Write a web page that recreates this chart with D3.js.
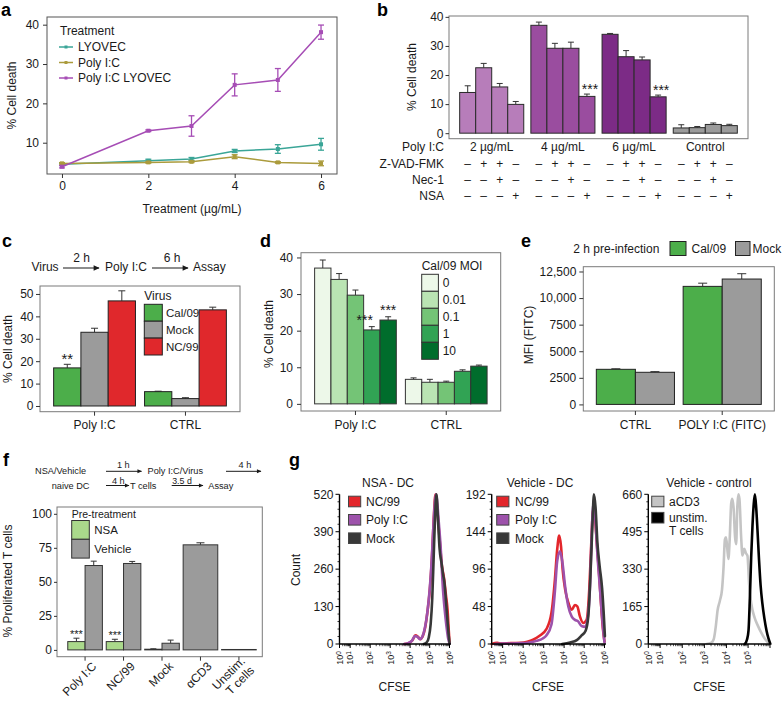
<!DOCTYPE html>
<html>
<head>
<meta charset="utf-8">
<script src="https://cdn.jsdelivr.net/npm/d3@7/dist/d3.min.js"></script>
<style>
  html,body{margin:0;padding:0;background:#fff;}
  svg{display:block;}
</style>
</head>
<body>
<svg id="fig" width="782" height="701" xmlns="http://www.w3.org/2000/svg"></svg>
<script>
// ======================= DATA =======================
// Panel a
const aDoses = [0, 2, 3, 4, 5, 6];
const aSeriesNames = ["LYOVEC", "Poly I:C", "Poly I:C LYOVEC"];
const aLyovec = [4.5, 5.4, 5.85, 7.9, 8.4, 9.6];
const aLyovecErr = [0.3, 0.4, 0.4, 0.4, 1.1, 1.5];
const aPolyIC = [4.75, 5.0, 5.15, 6.45, 5.0, 4.75];
const aPolyICErr = [0.2, 0.2, 0.2, 0.5, 0.2, 0.6];
const aPolyICLyovec = [3.9, 13.05, 14.25, 24.7, 25.95, 38.1];
const aPolyICLyovecErr = [0.3, 0.2, 2.6, 2.8, 2.9, 1.8];
const aXTicks = [0, 2, 4, 6];
const aYTicks = [10, 20, 30, 40];

// Panel b
const bGroups = ["2 µg/mL", "4 µg/mL", "6 µg/mL", "Control"];
const bValues = [[14.0, 22.5, 15.9, 9.9], [37.1, 29.2, 29.2, 12.65], [34.0, 26.3, 25.2, 12.5], [1.8, 1.9, 3.0, 2.6]];
const bErrors = [[2.3, 1.5, 1.2, 1.0], [1.1, 1.7, 2.1, 0.8], [0.3, 2.1, 1.0, 0.6], [1.1, 0.4, 0.5, 0.45]];
const bRowLabels = ["Poly I:C", "Z-VAD-FMK", "Nec-1", "NSA"];
const bRowSigns = [["–", "+", "+", "–"], ["–", "–", "+", "–"], ["–", "–", "–", "+"]];
const bSignif = [["4 µg/mL", 3, "***"], ["6 µg/mL", 3, "***"]];
const bYTicks = [0, 10, 20, 30, 40];

// Panel c
const cGroups = ["Poly I:C", "CTRL"];
const cViruses = ["Cal/09", "Mock", "NC/99"];
const cValues = [[17.0, 32.9, 46.9], [6.4, 3.3, 42.9]];
const cErrors = [[1.6, 1.8, 4.5], [0.2, 0.4, 1.2]];
const cSignif = [["Poly I:C", 0, "**"]];
const cYTicks = [0, 10, 20, 30, 40, 50];

// Panel d
const dGroups = ["Poly I:C", "CTRL"];
const dMOI = ["0", "0.01", "0.1", "1", "10"];
const dValues = [[37.1, 34.0, 29.7, 20.2, 22.9], [6.7, 5.9, 5.9, 8.9, 10.3]];
const dErrors = [[2.2, 1.6, 1.4, 0.9, 0.9], [0.4, 0.8, 0.3, 0.4, 0.3]];
const dSignif = [["Poly I:C", 3, "***"], ["Poly I:C", 4, "***"]];
const dYTicks = [0, 10, 20, 30, 40];

// Panel e
const eGroups = ["CTRL", "POLY I:C (FITC)"];
const eSeries = ["Cal/09", "Mock"];
const eValues = [[3300, 3020], [11100, 11790]];
const eErrors = [[50, 60], [300, 500]];
const eYTicks = [0, 2500, 5000, 7500, 10000, 12500];

// Panel f
const fCategories = ["Poly I:C", "NC/99", "Mock", "αCD3", "Unstim.\nT cells"];
const fSeries = ["NSA", "Vehicle"];
const fNSA = [6.1, 6.1, 0.5, null, null];
const fNSAErr = [2.5, 1.7, 0.3, null, null];
const fVehicle = [62.0, 63.5, 4.9, 77.2, 0.3];
const fVehicleErr = [3.2, 1.5, 2.3, 1.5, 0];
const fSignif = [["Poly I:C", "***"], ["NC/99", "***"]];
const fYTicks = [0, 25, 50, 75, 100];

// Panel g (histograms: [log10 CFSE, count])
const gDecades = [0, 1, 2, 3, 4, 5, 6];
const g1Ticks = [0, 130, 260, 390, 520];
const g2Ticks = [0, 48, 96, 144, 192];
const g3Ticks = [0, 165, 330, 495, 660];
const g1Red = [[3.72,0],[3.92,3],[4.12,13],[4.27,30],[4.4,25],[4.52,17],[4.64,26],[4.77,58],[4.9,120],[5.02,200],[5.12,310],[5.2,430],[5.27,510],[5.31,520],[5.38,470],[5.46,400],[5.54,330],[5.62,270],[5.72,230],[5.82,170],[5.9,120],[5.96,50],[6.0,5]];
const g1Purple = [[3.7,0],[3.9,3],[4.1,12],[4.25,28],[4.38,25],[4.5,17],[4.62,25],[4.75,55],[4.88,110],[5.0,190],[5.1,290],[5.18,400],[5.25,480],[5.31,520],[5.37,500],[5.45,430],[5.55,340],[5.67,190],[5.77,110],[5.85,60],[5.93,20],[6.0,2]];
const g1Mock = [[4.7,0],[4.85,6],[4.95,22],[5.05,70],[5.13,160],[5.2,300],[5.27,440],[5.34,520],[5.42,430],[5.5,330],[5.6,280],[5.68,240],[5.74,215],[5.82,150],[5.9,80],[5.96,30],[6.0,5]];
const g2Red = [[0.0,0],[0.5,1.5],[0.9,0.5],[1.4,1.2],[1.9,1.5],[2.2,3],[2.48,5.5],[2.8,10.5],[3.13,19],[3.38,40],[3.55,83],[3.66,121],[3.76,139],[3.85,125],[3.93,95],[4.05,70],[4.21,53],[4.38,44],[4.54,50],[4.66,48],[4.79,35],[4.95,27],[5.12,31],[5.25,70],[5.35,130],[5.44,172],[5.52,165],[5.62,130],[5.72,95],[5.82,55],[5.92,20],[6.0,3]];
const g2Purple = [[0.3,0],[1.0,0.5],[1.8,1],[2.3,2],[2.65,4],[2.95,7],[3.13,11],[3.38,25],[3.55,68],[3.66,106],[3.8,119],[3.92,104],[4.05,74],[4.21,48],[4.38,35],[4.54,31],[4.7,29],[4.87,23],[5.05,22],[5.18,35],[5.29,75],[5.38,150],[5.47,181],[5.55,160],[5.65,115],[5.75,80],[5.85,45],[5.93,20],[6.0,2]];
const g2Mock = [[3.9,0],[4.3,2],[4.63,5],[4.87,11],[5.07,17],[5.2,35],[5.3,83],[5.4,150],[5.48,192],[5.56,175],[5.65,130],[5.76,100],[5.88,72],[5.96,40],[6.02,10]];
const g3aCD3 = [[3.1,0],[3.3,5],[3.42,20],[3.52,80],[3.6,150],[3.7,190],[3.8,240],[3.87,340],[3.93,460],[3.98,470],[4.04,420],[4.09,375],[4.15,460],[4.22,620],[4.27,640],[4.33,600],[4.4,470],[4.45,440],[4.5,600],[4.55,660],[4.6,640],[4.68,470],[4.74,390],[4.82,420],[4.9,400],[4.97,390],[5.05,260],[5.15,175],[5.3,115],[5.45,80],[5.6,50],[5.75,25],[5.9,8],[6.0,2]];
const g3Unstim = [[4.85,0],[4.95,20],[5.02,60],[5.08,200],[5.14,380],[5.2,520],[5.26,620],[5.31,660],[5.37,600],[5.43,500],[5.5,370],[5.57,260],[5.65,180],[5.74,115],[5.84,60],[5.93,25],[6.0,5]];

// ======================= DRAWING =======================
const FONT = '"Liberation Sans", Arial, Helvetica, sans-serif';
const INK = "#1a1a1a";
const svg = d3.select("#fig").attr("font-family", FONT);
svg.append("rect").attr("width", 782).attr("height", 701).attr("fill", "#fff");

const defs = svg.append("defs");
defs.append("marker").attr("id", "arr").attr("viewBox", "0 0 10 10")
  .attr("refX", 9).attr("refY", 5).attr("markerWidth", 7).attr("markerHeight", 6)
  .attr("orient", "auto").attr("markerUnits", "userSpaceOnUse")
  .append("path").attr("d", "M0,0.5 L10,5 L0,9.5 Z").attr("fill", INK);
defs.append("marker").attr("id", "arrS").attr("viewBox", "0 0 10 10")
  .attr("refX", 9).attr("refY", 5).attr("markerWidth", 5.5).attr("markerHeight", 4.5)
  .attr("orient", "auto").attr("markerUnits", "userSpaceOnUse")
  .append("path").attr("d", "M0,0.5 L10,5 L0,9.5 Z").attr("fill", INK);

function text(x, y, s, o = {}) {
  const t = svg.append("text").attr("x", x).attr("y", y)
    .attr("font-size", o.size || 12).attr("fill", o.fill || INK)
    .attr("text-anchor", o.anchor || "start");
  if (o.weight) t.attr("font-weight", o.weight);
  if (o.rotate != null) t.attr("transform", `rotate(${o.rotate},${x},${y})`);
  t.text(s);
  return t;
}
function panelBox(b) {
  svg.append("rect").attr("x", b.l).attr("y", b.t).attr("width", b.r - b.l).attr("height", b.b - b.t)
    .attr("fill", "none").attr("stroke", b.stroke || "#7a7a7a").attr("stroke-width", 1);
}
function yAxis(y, x, ticks, o = {}) {
  const g = svg.append("g").attr("transform", `translate(${x},0)`)
    .call(d3.axisLeft(y).tickValues(ticks).tickSize(o.size || 4)
      .tickPadding(o.pad == null ? 3 : o.pad).tickFormat(o.fmt || (d => d)));
  g.attr("font-family", FONT).attr("font-size", o.fs || 12);
  g.select(".domain").remove();
  g.selectAll(".tick line").attr("stroke", "#333");
  g.selectAll(".tick text").attr("fill", INK);
  return g;
}
function xAxis(x, y, ticks, o = {}) {
  const ax = d3.axisBottom(x).tickSize(o.size || 4).tickPadding(o.pad == null ? 3 : o.pad);
  if (ticks) ax.tickValues(ticks).tickFormat(d => d);
  const g = svg.append("g").attr("transform", `translate(0,${y})`).call(ax);
  g.attr("font-family", FONT).attr("font-size", o.fs || 12);
  g.select(".domain").remove();
  g.selectAll(".tick line").attr("stroke", "#333");
  g.selectAll(".tick text").attr("fill", INK);
  if (o.noLabels) g.selectAll(".tick text").remove();
  return g;
}
function vline(x, y1, y2, c, w) {
  svg.append("line").attr("x1", x).attr("x2", x).attr("y1", y1).attr("y2", y2)
    .attr("stroke", c).attr("stroke-width", w || 1);
}
function hline(x1, x2, y, c, w) {
  svg.append("line").attr("x1", x1).attr("x2", x2).attr("y1", y).attr("y2", y)
    .attr("stroke", c).attr("stroke-width", w || 1);
}
function upErr(cx, yTop, yErr, cap, c) {
  vline(cx, yTop, yErr, c || "#333", 1);
  hline(cx - cap / 2, cx + cap / 2, yErr, c || "#333", 1);
}
function bar(x, w, y0, y1, fill, stroke) {
  svg.append("rect").attr("x", x).attr("y", Math.min(y0, y1)).attr("width", w)
    .attr("height", Math.abs(y1 - y0)).attr("fill", fill)
    .attr("stroke", stroke || "#2a2a2a").attr("stroke-width", 1);
}
function stars(cx, cy, s, size) {
  text(cx, cy + size * 0.55, s, {anchor: "middle", size: size});
}

// ---------- panel labels ----------
[["a", 1, 16], ["b", 377, 16], ["c", 2, 247], ["d", 260, 247], ["e", 521, 247], ["f", 3, 466], ["g", 289, 466]]
  .forEach(([t, x, y]) => text(x, y, t, {size: 18, weight: "bold", fill: "#000"}));

// ======================= PANEL A =======================
{
  const box = {l: 47, t: 17, r: 337, b: 174, stroke: "#555"};
  const x = d3.scaleLinear().domain([-0.347, 6.37]).range([box.l, box.r]);
  const y = d3.scaleLinear().domain([2.05, 41.95]).range([box.b, box.t]);
  panelBox(box);
  yAxis(y, box.l, aYTicks, {pad: 4});
  xAxis(x, box.b, aXTicks, {pad: 3});
  const series = [
    {name: aSeriesNames[0], v: aLyovec, e: aLyovecErr, c: "#3aa597"},
    {name: aSeriesNames[1], v: aPolyIC, e: aPolyICErr, c: "#ab9b3c"},
    {name: aSeriesNames[2], v: aPolyICLyovec, e: aPolyICLyovecErr, c: "#a64db5"}];
  const line = d3.line().x((d, i) => x(aDoses[i])).y(d => y(d));
  series.forEach(s => {
    svg.append("path").datum(s.v).attr("d", line).attr("fill", "none")
      .attr("stroke", s.c).attr("stroke-width", 1.5);
    s.v.forEach((v, i) => {
      const cx = x(aDoses[i]);
      const y1 = y(v + s.e[i]), y2 = y(v - s.e[i]);
      vline(cx, y1, y2, s.c, 1.3);
      hline(cx - 3, cx + 3, y1, s.c, 1.3);
      hline(cx - 3, cx + 3, y2, s.c, 1.3);
      svg.append("rect").attr("x", cx - 2).attr("y", y(v) - 2).attr("width", 4).attr("height", 4).attr("fill", s.c);
    });
  });
  text(60, 35, "Treatment", {size: 12});
  const ly = [47, 62.5, 78];
  series.forEach((s, i) => {
    hline(59, 73, ly[i], s.c, 1.5);
    svg.append("rect").attr("x", 64.5).attr("y", ly[i] - 1.5).attr("width", 3).attr("height", 3).attr("fill", s.c);
    text(78, ly[i] + 4.3, s.name, {size: 12});
  });
  text(192, 213, "Treatment (µg/mL)", {anchor: "middle"});
  text(15.5, 95.5, "% Cell death", {anchor: "middle", rotate: -90});
}

// ======================= PANEL B =======================
{
  const box = {l: 449, t: 16, r: 748, b: 138.7};
  const x0 = d3.scaleBand().domain(bGroups).range([box.l, box.r]).paddingInner(0.1).paddingOuter(0.15);
  const x1 = d3.scaleBand().domain(d3.range(4)).range([0, x0.bandwidth()]);
  const y = d3.scaleLinear().domain([-1.9, 40.3]).range([box.b, box.t]);
  const fills = ["#b77dba", "#9a4d9f", "#7c2b86", "#9b9b9b"];
  bGroups.forEach((g, gi) => {
    bValues[gi].forEach((v, i) => {
      const bx = x0(g) + x1(i), bw = x1.bandwidth();
      upErr(bx + bw / 2, y(v), y(v + bErrors[gi][i]), 6);
      bar(bx, bw, y(0), y(v), fills[gi]);
    });
  });
  panelBox(box);
  yAxis(y, box.l, bYTicks, {size: 3.5, pad: 2});
  bSignif.forEach(([g, i, s]) => {
    const gi = bGroups.indexOf(g);
    const cx = x0(g) + x1(i) + x1.bandwidth() / 2 + 3;
    stars(cx, y(bValues[gi][i] + bErrors[gi][i]) - 8, s, 14);
  });
  const rowY = [151, 167.5, 183.5, 199.5];
  bRowLabels.forEach((r, ri) => text(444, rowY[ri], r, {anchor: "end"}));
  bGroups.forEach(g => {
    text(x0(g) + x0.bandwidth() / 2, rowY[0], g, {anchor: "middle"});
    bRowSigns.forEach((row, ri) => row.forEach((s, i) =>
      text(x0(g) + x1(i) + x1.bandwidth() / 2, rowY[ri + 1], s, {anchor: "middle"})));
  });
  text(416, 77, "% Cell death", {anchor: "middle", rotate: -90});
}

// ======================= PANEL C =======================
{
  text(31.5, 271, "Virus");
  svg.append("line").attr("x1", 63).attr("x2", 99).attr("y1", 268).attr("y2", 268)
    .attr("stroke", INK).attr("stroke-width", 1.2).attr("marker-end", "url(#arr)");
  text(81.5, 262, "2 h", {anchor: "middle"});
  text(105, 271, "Poly I:C");
  svg.append("line").attr("x1", 152).attr("x2", 188).attr("y1", 268).attr("y2", 268)
    .attr("stroke", INK).attr("stroke-width", 1.2).attr("marker-end", "url(#arr)");
  text(172, 262, "6 h", {anchor: "middle"});
  text(193, 271, "Assay");

  const box = {l: 40, t: 286, r: 240, b: 411.7};
  const x0 = d3.scaleBand().domain(cGroups).range([box.l, box.r]).paddingInner(0.1).paddingOuter(0.15);
  const x1 = d3.scaleBand().domain(cViruses).range([0, x0.bandwidth()]);
  const y = d3.scaleLinear().domain([-2.55, 53.55]).range([box.b, box.t]);
  const fills = ["#4cae4a", "#9b9b9b", "#e0282c"];
  cGroups.forEach((g, gi) => cViruses.forEach((s, si) => {
    const bx = x0(g) + x1(s), bw = x1.bandwidth(), v = cValues[gi][si];
    upErr(bx + bw / 2, y(v), y(v + cErrors[gi][si]), 7);
    bar(bx, bw, y(0), y(v), fills[si], "#222");
  }));
  panelBox(box);
  yAxis(y, box.l, cYTicks, {size: 4, pad: 2.5});
  xAxis(x0, box.b, null, {pad: 5});
  cSignif.forEach(([g, i, s]) => {
    const gi = cGroups.indexOf(g);
    stars(x0(g) + x1(cViruses[i]) + x1.bandwidth() / 2, y(cValues[gi][i] + cErrors[gi][i]) - 9, s, 15);
  });
  text(144.3, 300, "Virus", {size: 12});
  const tops = [304.3, 321.2, 338.1];
  cViruses.forEach((s, i) => {
    svg.append("rect").attr("x", 144.3).attr("y", tops[i]).attr("width", 18).attr("height", 16.9)
      .attr("fill", fills[i]).attr("stroke", "#222").attr("stroke-width", 1);
    text(166, tops[i] + 12.5, s, {size: 11.5});
  });
  text(12, 349, "% Cell death", {anchor: "middle", rotate: -90});
}

// ======================= PANEL D =======================
{
  const box = {l: 301, t: 252.7, r: 500.7, b: 411};
  const x0 = d3.scaleBand().domain(dGroups).range([box.l, box.r]).paddingInner(0.1).paddingOuter(0.15);
  const x1 = d3.scaleBand().domain(dMOI).range([0, x0.bandwidth()]);
  const y = d3.scaleLinear().domain([-1.95, 41.3]).range([box.b, box.t]);
  const fills = ["#edf8e9", "#bae4b3", "#74c476", "#31a354", "#006d2c"];
  dGroups.forEach((g, gi) => dMOI.forEach((s, si) => {
    const bx = x0(g) + x1(s), bw = x1.bandwidth(), v = dValues[gi][si];
    upErr(bx + bw / 2, y(v), y(v + dErrors[gi][si]), 6);
    bar(bx, bw, y(0), y(v), fills[si], "#333");
  }));
  panelBox(box);
  yAxis(y, box.l, dYTicks, {size: 4, pad: 4});
  xAxis(x0, box.b, null, {pad: 5});
  dSignif.forEach(([g, i, s]) => {
    const gi = dGroups.indexOf(g);
    const cx = x0(g) + x1(dMOI[i]) + x1.bandwidth() / 2 - (i === 3 ? 7 : 0);
    stars(cx, y(dValues[gi][i] + dErrors[gi][i]) - 9, s, 14);
  });
  text(421.7, 270, "Cal/09 MOI", {size: 12});
  const tops = [274.3, 291.3, 308.3, 325.3, 342.3];
  dMOI.forEach((s, i) => {
    svg.append("rect").attr("x", 421.7).attr("y", tops[i]).attr("width", 16.7).attr("height", 17)
      .attr("fill", fills[i]).attr("stroke", "#333").attr("stroke-width", 1);
    text(442.7, tops[i] + 12.8, s, {size: 12});
  });
  text(272.5, 334, "% Cell death", {anchor: "middle", rotate: -90});
}

// ======================= PANEL E =======================
{
  const box = {l: 583.3, t: 266.7, r: 774.3, b: 411};
  const x0 = d3.scaleBand().domain(eGroups).range([box.l, box.r]).paddingInner(0.1).paddingOuter(0.15);
  const x1 = d3.scaleBand().domain(eSeries).range([0, x0.bandwidth()]);
  const y = d3.scaleLinear().domain([-620, 12950]).range([box.b, box.t]);
  const fills = ["#4cae4a", "#9b9b9b"];
  eGroups.forEach((g, gi) => eSeries.forEach((s, si) => {
    const bx = x0(g) + x1(s), bw = x1.bandwidth(), v = eValues[gi][si];
    upErr(bx + bw / 2, y(v), y(v + eErrors[gi][si]), 9);
    bar(bx, bw, y(0), y(v), fills[si], "#222");
  }));
  panelBox(box);
  yAxis(y, box.l, eYTicks, {size: 4, pad: 3, fmt: d => d >= 10000 ? d3.format(",")(d) : d});
  xAxis(x0, box.b, null, {pad: 5});
  text(573.3, 252.5, "2 h pre-infection", {size: 12});
  svg.append("rect").attr("x", 670).attr("y", 241.5).attr("width", 16).attr("height", 14)
    .attr("fill", fills[0]).attr("stroke", "#222");
  text(691.5, 252.5, eSeries[0], {size: 12});
  svg.append("rect").attr("x", 735.5).attr("y", 241.5).attr("width", 14.5).attr("height", 14)
    .attr("fill", fills[1]).attr("stroke", "#222");
  text(752.5, 252.5, eSeries[1], {size: 12});
  text(532.5, 335, "MFI (FITC)", {anchor: "middle", rotate: -90});
}

// ======================= PANEL F =======================
{
  const fs = 9.2;
  text(35, 474.3, "NSA/Vehicle", {size: fs});
  svg.append("line").attr("x1", 106).attr("x2", 141.5).attr("y1", 471.3).attr("y2", 471.3)
    .attr("stroke", INK).attr("stroke-width", 1).attr("marker-end", "url(#arrS)");
  text(123.3, 468.3, "1 h", {size: fs, anchor: "middle"});
  text(147.5, 474.3, "Poly I:C/Virus", {size: fs});
  svg.append("line").attr("x1", 226).attr("x2", 261).attr("y1", 471.3).attr("y2", 471.3)
    .attr("stroke", INK).attr("stroke-width", 1).attr("marker-end", "url(#arrS)");
  text(245, 468.3, "4 h", {size: fs, anchor: "middle"});
  text(51.7, 489, "naive DC", {size: fs});
  svg.append("line").attr("x1", 106).attr("x2", 129).attr("y1", 485.5).attr("y2", 485.5)
    .attr("stroke", INK).attr("stroke-width", 1).attr("marker-end", "url(#arrS)");
  text(118.3, 483.8, "4 h", {size: fs, anchor: "middle"});
  text(130, 489, "T cells", {size: fs});
  svg.append("line").attr("x1", 171.7).attr("x2", 203).attr("y1", 485.5).attr("y2", 485.5)
    .attr("stroke", INK).attr("stroke-width", 1).attr("marker-end", "url(#arrS)");
  text(182, 484, "3.5 d", {size: 8.8, anchor: "middle"});
  text(208.3, 489, "Assay", {size: fs});

  const box = {l: 57, t: 507, r: 262.3, b: 656.7};
  const x0 = d3.scaleBand().domain(fCategories).range([62, 262]).paddingInner(0.1).paddingOuter(0.15);
  const x1 = d3.scaleBand().domain(fSeries).range([0, x0.bandwidth()]);
  const y = d3.scaleLinear().domain([-5, 105]).range([box.b, box.t]);
  const fills = ["#aad98b", "#9b9b9b"];
  fCategories.forEach((c, i) => {
    if (fNSA[i] != null) {
      const bxN = x0(c) + x1("NSA"), bw = x1.bandwidth();
      upErr(bxN + bw / 2, y(fNSA[i]), y(fNSA[i] + fNSAErr[i]), 6);
      bar(bxN, bw, y(0), y(fNSA[i]), fills[0], "#333");
      const bxV = x0(c) + x1("Vehicle");
      upErr(bxV + bw / 2, y(fVehicle[i]), y(fVehicle[i] + fVehicleErr[i]), 6);
      bar(bxV, bw, y(0), y(fVehicle[i]), fills[1], "#333");
    } else {
      const bx = x0(c), bw = x0.bandwidth();
      if (fVehicleErr[i] > 0) upErr(bx + bw / 2, y(fVehicle[i]), y(fVehicle[i] + fVehicleErr[i]), 8);
      bar(bx, bw, y(0), y(fVehicle[i]), fills[1], "#333");
    }
  });
  panelBox(box);
  yAxis(y, box.l, fYTicks, {size: 3, pad: 2});
  xAxis(x0, box.b, null, {noLabels: true});
  fSignif.forEach(([c, s]) => {
    const i = fCategories.indexOf(c);
    const cx = x0(c) + x1("NSA") + x1.bandwidth() / 2;
    stars(cx, y(fNSA[i] + fNSAErr[i]) - 6, s, 11);
  });
  fCategories.forEach(c => {
    const cx = x0(c) + x0.bandwidth() / 2;
    const lines = c.split("\n");
    const ax = cx + 6, ay = 661;
    const t = svg.append("text").attr("transform", `translate(${ax},${ay}) rotate(-45)`)
      .attr("text-anchor", "end").attr("font-size", 12).attr("fill", INK);
    lines.forEach((l, li) => t.append("tspan").attr("x", 0)
      .attr("dy", li === 0 ? (lines.length > 1 ? "0.1em" : "0.72em") : "1.1em").text(l));
  });
  text(71.7, 517.5, "Pre-treatment", {size: 10.5});
  const tops = [520.5, 539.3];
  fSeries.forEach((s, i) => {
    svg.append("rect").attr("x", 71.7).attr("y", tops[i]).attr("width", 17.6).attr("height", 18.8)
      .attr("fill", fills[i]).attr("stroke", "#333");
    text(94.3, tops[i] + 13.3, s, {size: 11.5});
  });
  text(12, 581, "% Proliferated T cells", {anchor: "middle", rotate: -90});
}

// ======================= PANEL G =======================
{
  const gTop = 494.3, gBot = 644;
  const gFrac = [0, 0.097, 0.279, 0.461, 0.642, 0.82, 1.0];
  const panels = [
    {title: "NSA - DC", tx: 388, x0: 339.5, x1: 449.5, ymax: 520, ticks: g1Ticks, xl: 6,
     series: [{d: g1Red, c: "#e3262b", n: "NC/99"}, {d: g1Purple, c: "#9d52ab", n: "Poly I:C"}, {d: g1Mock, c: "#383838", n: "Mock"}],
     legX: 348.5, legTx: 366},
    {title: "Vehicle - DC", tx: 540, x0: 491.7, x1: 604.5, ymax: 192, ticks: g2Ticks, xl: 6,
     series: [{d: g2Red, c: "#e3262b", n: "NC/99"}, {d: g2Purple, c: "#9d52ab", n: "Poly I:C"}, {d: g2Mock, c: "#383838", n: "Mock"}],
     legX: 496.7, legTx: 515},
    {title: "Vehicle - control", tx: 709, x0: 648.3, x1: 770, ymax: 660, ticks: g3Ticks, xl: 5,
     series: [{d: g3aCD3, c: "#c4c4c4", n: "aCD3"}, {d: g3Unstim, c: "#000000", n: "unstim."}],
     legX: 651.7, legTx: 669}
  ];
  panels.forEach(p => {
    const x = d3.scaleLinear().domain(gDecades).range(gFrac.map(f => p.x0 + f * (p.x1 - p.x0)));
    const y = d3.scaleLinear().domain([0, p.ymax]).range([gBot, gTop]);
    const line = d3.line().x(d => x(d[0])).y(d => y(d[1])).curve(d3.curveMonotoneX);
    p.series.forEach(s => svg.append("path").datum(s.d).attr("d", line).attr("fill", "none")
      .attr("stroke", s.c).attr("stroke-width", 2.6).attr("stroke-linejoin", "round").attr("stroke-linecap", "round"));
    vline(p.x0, gTop, gBot, "#000", 1.4);
    hline(p.x0, p.x1 + 1.5, gBot, "#000", 1.4);
    p.ticks.forEach(t => {
      hline(p.x0 - 4, p.x0, y(t), "#000", 1);
      text(p.x0 - 6, y(t) + 4.2, t, {anchor: "end", size: 12});
    });
    const step = p.ticks[1] / 5;
    d3.range(1, 20).filter(k => k % 5 !== 0).forEach(k => hline(p.x0 - 2, p.x0, y(k * step), "#000", 0.8));
    gDecades.forEach(k => vline(x(k), gBot, gBot + 4, "#000", 1));
    d3.range(0, 6).forEach(k => d3.range(2, 10).forEach(m => vline(x(k + Math.log10(m)), gBot, gBot + 2.2, "#000", 0.7)));
    gDecades.filter(k => k <= p.xl).forEach(k => {
      const tx = x(k) + 3.3, ty = gBot + 7;
      const t = svg.append("text").attr("transform", `translate(${tx},${ty}) rotate(-90)`)
        .attr("text-anchor", "end").attr("font-size", 9).attr("fill", INK);
      t.append("tspan").text("10");
      t.append("tspan").attr("font-size", 6.5).attr("dy", "-0.35em").text(k);
    });
    text(p.tx, 486.5, p.title, {anchor: "middle", size: 12});
    text((p.x0 + p.x1) / 2, 691, "CFSE", {anchor: "middle", size: 12});
  });
  text(299.5, 570, "Count", {anchor: "middle", rotate: -90});
  const legRows = [501.5, 519.8, 538.2];
  [0, 1].forEach(pi => {
    const p = panels[pi];
    p.series.forEach((s, i) => {
      svg.append("rect").attr("x", p.legX).attr("y", legRows[i] - 5.3).attr("width", 12.2).attr("height", 10.6)
        .attr("fill", s.c).attr("stroke", "#444").attr("stroke-width", 1);
      text(p.legTx, legRows[i] + 4.3, s.n, {size: 12});
    });
  });
  {
    const p = panels[2];
    const rows = [501.5, 517.7];
    p.series.forEach((s, i) => {
      svg.append("rect").attr("x", p.legX).attr("y", rows[i] - 5.3).attr("width", 12.2).attr("height", 10.6)
        .attr("fill", s.c).attr("stroke", "#444").attr("stroke-width", 1);
      text(p.legTx, rows[i] + 4.3, s.n, {size: 12});
    });
    text(p.legTx, 534.5, "T cells", {size: 12});
  }
}
</script>
</body>
</html>
